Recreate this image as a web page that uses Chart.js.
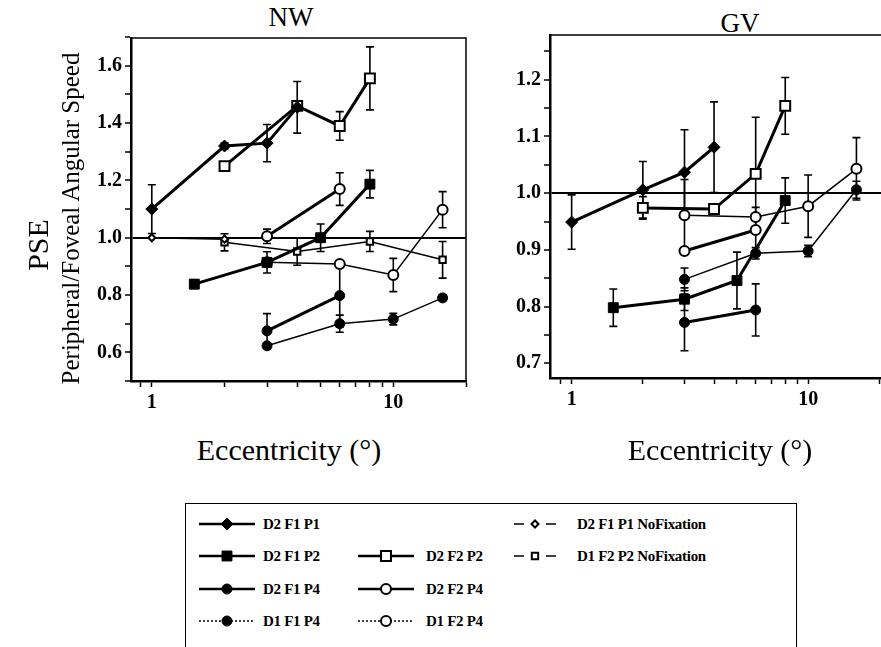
<!DOCTYPE html>
<html lang="en">
<head>
<meta charset="utf-8">
<title>PSE vs eccentricity</title>
<script src="https://cdn.jsdelivr.net/npm/chart.js@4.4.1/dist/chart.umd.min.js"></script>
<style>
  html, body { margin: 0; padding: 0; background: #fff; }
  body {
    width: 881px; height: 647px; overflow: hidden; position: relative;
    font-family: "Liberation Serif", "Times New Roman", serif; color: #000;
  }
  canvas { position: absolute; top: 0; }
  #nw { left: 0; }
  #gv { left: 470px; }
  .panel-title { position: absolute; width: 200px; text-align: center; font-size: 27px; line-height: 1; }
  .xtitle { position: absolute; width: 320px; text-align: center; font-size: 30px; line-height: 1; top: 435px; }
  .ytitle { position: absolute; transform: rotate(-90deg); text-align: center; white-space: nowrap; line-height: 1; }
  #pse { font-size: 30px; width: 120px; height: 30px; left: -22px; top: 230px; }
  #ratio { font-size: 25px; width: 380px; height: 25px; left: -120px; top: 206px; }
  #legend {
    position: absolute; left: 185px; top: 503px; width: 612px; height: 170px;
    border: 1.5px solid #000; box-sizing: border-box;
  }
  .item { position: absolute; height: 18px; }
  .item canvas { position: absolute; left: 0; top: 0; }
  .item span {
    position: absolute; top: 0; line-height: 18px; white-space: nowrap;
    font-weight: bold; font-size: 15px; letter-spacing: -0.3px;
  }
</style>
</head>
<body>
<div class="panel-title" style="left:191px;top:4px;">NW</div>
<div class="panel-title" style="left:640px;top:10px;">GV</div>
<canvas id="nw" width="475" height="420"></canvas>
<canvas id="gv" width="460" height="420"></canvas>
<div class="ytitle" id="pse">PSE</div>
<div class="ytitle" id="ratio">Peripheral/Foveal Angular Speed</div>
<div class="xtitle" style="left:129px">Eccentricity (°)</div>
<div class="xtitle" style="left:560px">Eccentricity (°)</div>
<div id="legend"></div>

<script>
Chart.defaults.font.family = '"Liberation Serif", "Times New Roman", serif';
Chart.defaults.color = '#000';

// axis ticks (log x, labelled at decades only)
const xTicksNW = [0.9, 1, 2, 3, 4, 5, 6, 7, 8, 9, 10, 20];
const xTicksGV = [0.9, 1, 2, 3, 4, 5, 6, 7, 8, 9, 10, 20, 30];
const xLabelled = [1, 10];

const yTicksNW = [0.5, 0.6, 0.7, 0.8, 0.9, 1.0, 1.1, 1.2, 1.3, 1.4, 1.5, 1.6, 1.7];
const yLabelledNW = [0.6, 0.8, 1.0, 1.2, 1.4, 1.6];
const yTicksGV = [0.7, 0.75, 0.8, 0.85, 0.9, 0.95, 1.0, 1.05, 1.1, 1.15, 1.2, 1.25];
const yLabelledGV = [0.7, 0.8, 0.9, 1.0, 1.1, 1.2];

// eccentricities (deg) used by the conditions
const ecc1to4 = [1, 2, 3, 4];
const ecc2to8 = [2, 4, 6, 8];
const eccP2 = [1.5, 3, 5, 8];
const eccP4 = [3, 6];
const eccD1 = [3, 6, 10, 16];
const eccNoFixP1 = [1, 2];
const eccNoFixP2 = [2, 4, 8, 16];

// NW: PSE and error half-widths
const nwD2F1P1 = [1.10, 1.32, 1.33, 1.455];
const nwD2F1P1Err = [0.085, 0.01, 0.065, 0.09];
const nwD2F2P2 = [1.25, 1.46, 1.39, 1.556];
const nwD2F2P2Err = [0.015, 0, 0.05, 0.11];
const nwD2F1P2 = [0.838, 0.914, 1.0, 1.187];
const nwD2F1P2Err = [0.015, 0.037, 0.048, 0.048];
const nwD2F2P4 = [1.005, 1.17];
const nwD2F2P4Err = [0.025, 0.057];
const nwD2F1P4 = [0.675, 0.798];
const nwD2F1P4Err = [0.06, 0.11];
const nwD1F1P4 = [0.623, 0.70, 0.716, 0.79];
const nwD1F1P4Err = [0.01, 0.03, 0.02, 0.01];
const nwD1F2P4 = [0.914, 0.908, 0.87, 1.098];
const nwD1F2P4Err = [0, 0, 0.058, 0.063];
const nwNoFixP1 = [1.0, 0.995];
const nwNoFixP1Err = [0, 0];
const nwNoFixP2 = [0.984, 0.952, 0.987, 0.923];
const nwNoFixP2Err = [0.03, 0.048, 0.035, 0.064];

// GV: PSE and error half-widths
const gvD2F1P1 = [0.949, 1.006, 1.037, 1.081];
const gvD2F1P1Err = [0.048, 0.05, 0.075, 0.08];
const gvD2F2P2 = [0.974, 0.972, 1.034, 1.154];
const gvD2F2P2Err = [0.02, 0, 0.1, 0.05];
const gvD2F1P2 = [0.798, 0.813, 0.846, 0.987];
const gvD2F1P2Err = [0.033, 0.02, 0.05, 0.04];
const gvD2F2P4 = [0.898, 0.935];
const gvD2F2P4Err = [0, 0.04];
const gvD2F1P4 = [0.772, 0.794];
const gvD2F1P4Err = [0.05, 0.046];
const gvD1F1P4 = [0.848, 0.894, 0.898, 1.006];
const gvD1F1P4Err = [0.02, 0.01, 0.01, 0.015];
const gvD1F2P4 = [0.961, 0.958, 0.977, 1.043];
const gvD1F2P4Err = [0.063, 0, 0.055, 0.055];

const seriesStyle = {
  'D2 F1 P1':            { shape: 'rectRot', open: false, r: 6,   line: 3,   key: 'solid' },
  'D2 F1 P2':            { shape: 'rect',    open: false, r: 7,   line: 3,   key: 'solid' },
  'D2 F1 P4':            { shape: 'circle',  open: false, r: 5,   line: 3,   key: 'solid' },
  'D1 F1 P4':            { shape: 'circle',  open: false, r: 5,   line: 1.5, key: 'dotted' },
  'D2 F2 P2':            { shape: 'rect',    open: true,  r: 7,   line: 3,   key: 'solid' },
  'D2 F2 P4':            { shape: 'circle',  open: true,  r: 5,   line: 3,   key: 'solid' },
  'D1 F2 P4':            { shape: 'circle',  open: true,  r: 5,   line: 1.5, key: 'dotted' },
  'D2 F1 P1 NoFixation': { shape: 'rectRot', open: true,  r: 3.5, line: 1.5, key: 'split' },
  'D1 F2 P2 NoFixation': { shape: 'rect',    open: true,  r: 4.5, line: 1.5, key: 'split' }
};

// legend grid: label, row, column
const legendLayout = [
  ['D2 F1 P1', 0, 0], ['D2 F1 P2', 1, 0], ['D2 F1 P4', 2, 0], ['D1 F1 P4', 3, 0],
  ['D2 F2 P2', 1, 1], ['D2 F2 P4', 2, 1], ['D1 F2 P4', 3, 1],
  ['D2 F1 P1 NoFixation', 0, 2], ['D1 F2 P2 NoFixation', 1, 2]
];

function series(label, xs, ys, errs) {
  const s = seriesStyle[label];
  return {
    label,
    data: xs.map((x, i) => ({ x, y: ys[i] })),
    errors: errs,
    showLine: true,
    borderColor: '#000',
    borderWidth: s.line,
    pointStyle: s.shape,
    pointRadius: s.r,
    pointBackgroundColor: s.open ? '#fff' : '#000',
    pointBorderColor: '#000',
    pointBorderWidth: s.open ? 2 : 1
  };
}

const near = (a, b) => Math.abs(a - b) < 1e-6;

// vertical error bars with caps, drawn under the markers
const errorBars = {
  id: 'errorBars',
  beforeDatasetsDraw(chart) {
    const { ctx, scales: { x, y } } = chart;
    ctx.save();
    ctx.strokeStyle = '#000';
    ctx.lineWidth = 1.6;
    chart.data.datasets.forEach(ds => {
      (ds.errors || []).forEach((e, i) => {
        if (!e) return;
        const p = ds.data[i];
        const px = x.getPixelForValue(p.x);
        const top = y.getPixelForValue(p.y + e);
        const bot = y.getPixelForValue(p.y - e);
        ctx.beginPath();
        ctx.moveTo(px, top); ctx.lineTo(px, bot);
        ctx.moveTo(px - 4, top); ctx.lineTo(px + 4, top);
        ctx.moveTo(px - 4, bot); ctx.lineTo(px + 4, bot);
        ctx.stroke();
      });
    });
    ctx.restore();
  }
};

// top and right sides of the box
const frame = {
  id: 'frame',
  beforeDatasetsDraw(chart) {
    const { ctx, chartArea: a } = chart;
    ctx.save();
    ctx.strokeStyle = '#000';
    ctx.lineWidth = 1.5;
    ctx.beginPath();
    ctx.moveTo(a.left, a.top);
    ctx.lineTo(a.right, a.top);
    ctx.lineTo(a.right, a.bottom);
    ctx.stroke();
    ctx.restore();
  }
};

function panel(id, o) {
  const tickFont = { size: 20, weight: 'bold' };
  return new Chart(document.getElementById(id), {
    type: 'scatter',
    data: { datasets: o.datasets },
    options: {
      responsive: false,
      animation: false,
      events: [],
      layout: { padding: o.padding },
      plugins: { legend: { display: false }, tooltip: { enabled: false } },
      scales: {
        x: {
          type: 'logarithmic',
          min: o.xMin, max: o.xMax,
          afterBuildTicks: s => { s.ticks = o.xTicks.map(v => ({ value: v })); },
          afterFit: s => { s.height = o.xHeight; },
          ticks: {
            autoSkip: false, maxRotation: 0, padding: 4, font: tickFont, color: '#000',
            callback: v => xLabelled.some(t => near(t, v)) ? String(v) : ''
          },
          grid: { drawOnChartArea: false, tickLength: 6, tickWidth: 1.5, tickColor: '#000' },
          border: { color: '#000', width: 2.5 }
        },
        y: {
          min: o.yMin, max: o.yMax,
          afterBuildTicks: s => { s.ticks = o.yTicks.map(v => ({ value: v })); },
          afterFit: s => { s.width = o.yWidth; },
          ticks: {
            autoSkip: false, padding: 3, font: tickFont, color: '#000',
            callback: v => o.yLabelled.some(t => near(t, v)) ? v.toFixed(1) : ''
          },
          grid: {
            color: c => near(c.tick.value, 1) ? '#000' : 'rgba(0,0,0,0)',
            lineWidth: 2, tickLength: 6, tickWidth: 1.5, tickColor: '#000'
          },
          border: { color: '#000', width: 2.5 }
        }
      }
    },
    plugins: [errorBars, frame]
  });
}

panel('nw', {
  xMin: 0.82, xMax: 20, xTicks: xTicksNW, xHeight: 39,
  yMin: 0.5, yMax: 1.697, yTicks: yTicksNW, yLabelled: yLabelledNW, yWidth: 131,
  padding: { top: 38, right: 9, left: 0, bottom: 0 },
  datasets: [
    series('D2 F1 P1', ecc1to4, nwD2F1P1, nwD2F1P1Err),
    series('D2 F2 P2', ecc2to8, nwD2F2P2, nwD2F2P2Err),
    series('D2 F1 P2', eccP2, nwD2F1P2, nwD2F1P2Err),
    series('D2 F2 P4', eccP4, nwD2F2P4, nwD2F2P4Err),
    series('D2 F1 P4', eccP4, nwD2F1P4, nwD2F1P4Err),
    series('D1 F2 P4', eccD1, nwD1F2P4, nwD1F2P4Err),
    series('D1 F1 P4', eccD1, nwD1F1P4, nwD1F1P4Err),
    series('D2 F1 P1 NoFixation', eccNoFixP1, nwNoFixP1, nwNoFixP1Err),
    series('D1 F2 P2 NoFixation', eccNoFixP2, nwNoFixP2, nwNoFixP2Err)
  ]
});

panel('gv', {
  xMin: 0.81, xMax: 30, xTicks: xTicksGV, xHeight: 42,
  yMin: 0.674, yMax: 1.279, yTicks: yTicksGV, yLabelled: yLabelledGV, yWidth: 80,
  padding: { top: 35, right: 6, left: 0, bottom: 0 },
  datasets: [
    series('D2 F1 P1', ecc1to4, gvD2F1P1, gvD2F1P1Err),
    series('D2 F2 P2', ecc2to8, gvD2F2P2, gvD2F2P2Err),
    series('D2 F1 P2', eccP2, gvD2F1P2, gvD2F1P2Err),
    series('D2 F2 P4', eccP4, gvD2F2P4, gvD2F2P4Err),
    series('D2 F1 P4', eccP4, gvD2F1P4, gvD2F1P4Err),
    series('D1 F2 P4', eccD1, gvD1F2P4, gvD1F2P4Err),
    series('D1 F1 P4', eccD1, gvD1F1P4, gvD1F1P4Err)
  ]
});

// legend: line sample with Chart.js point glyph, then the label
const legendCols = [
  { sample: 13, width: 56, text: 77 },
  { sample: 172, width: 56, text: 240 },
  { sample: 326, width: 46, text: 391 }
];
const legendRows = [11, 43, 76, 108];

const legendBox = document.getElementById('legend');
legendLayout.forEach(([label, row, col]) => {
  const s = seriesStyle[label];
  const c = legendCols[col];
  const item = document.createElement('div');
  item.className = 'item';
  item.style.left = c.sample + 'px';
  item.style.top = legendRows[row] + 'px';

  const cv = document.createElement('canvas');
  cv.width = c.width; cv.height = 18;
  const ctx = cv.getContext('2d');
  const mid = c.width / 2;
  ctx.strokeStyle = '#000';
  ctx.lineWidth = s.key === 'solid' ? 2.5 : 1.5;
  if (s.key === 'dotted') ctx.setLineDash([2, 2]);
  ctx.beginPath();
  if (s.key === 'split') {
    ctx.moveTo(2, 9); ctx.lineTo(12, 9);
    ctx.moveTo(c.width - 12, 9); ctx.lineTo(c.width - 2, 9);
  } else {
    ctx.moveTo(0, 9); ctx.lineTo(c.width, 9);
  }
  ctx.stroke();
  ctx.setLineDash([]);
  ctx.fillStyle = s.open ? '#fff' : '#000';
  ctx.lineWidth = s.open ? 2 : 1;
  Chart.helpers.drawPoint(ctx, { pointStyle: s.shape, radius: s.r, rotation: 0, borderWidth: ctx.lineWidth }, mid, 9);
  item.appendChild(cv);

  const span = document.createElement('span');
  span.textContent = label;
  span.style.left = (c.text - c.sample) + 'px';
  item.appendChild(span);
  legendBox.appendChild(item);
});
</script>
</body>
</html>
